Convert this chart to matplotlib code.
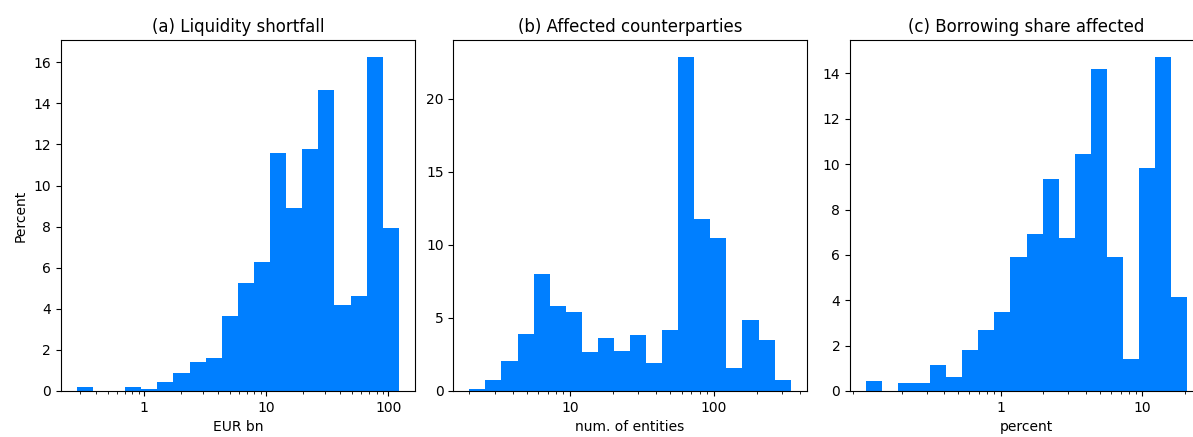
import numpy as np
import matplotlib
matplotlib.use('Agg')
import matplotlib.pyplot as plt

# Share of simulations (percent) per log-spaced bin
shortfall_range = [0.28, 122.0]   # EUR bn
shortfall_pct = [0.21, 0.0, 0.0, 0.21, 0.10, 0.44, 0.89, 1.41, 1.62, 3.63,
                 5.28, 6.29, 11.56, 8.90, 11.78, 14.64, 4.20, 4.62, 16.27, 7.91]

counterparty_range = [2.0, 344.0]  # num. of entities
counterparty_pct = [0.14, 0.73, 2.07, 3.90, 8.00, 5.81, 5.42, 2.64, 3.60, 2.73,
                    3.83, 1.91, 4.19, 22.87, 11.75, 10.46, 1.55, 4.85, 3.46, 0.73]

borrowing_range = [0.112, 20.6]    # percent
borrowing_pct = [0.43, 0.0, 0.35, 0.35, 1.16, 0.62, 1.81, 2.70, 3.49, 5.93,
                 6.93, 9.34, 6.74, 10.44, 14.21, 5.93, 1.42, 9.82, 14.74, 4.13]

titles = ['(a) Liquidity shortfall', '(b) Affected counterparties', '(c) Borrowing share affected']
xlabels = ['EUR bn', 'num. of entities', 'percent']
major_ticks = [[1, 10, 100], [10, 100], [1, 10]]
bar_color = '#007fff'

W, H = 1193, 437
fig = plt.figure(figsize=(W / 100, H / 100), dpi=100)

# axes boxes in pixels: left, right (the last one runs past the figure edge)
boxes = [(60.7, 415.0), (453.3, 806.7), (850.0, 1203.0)]
top, bottom = 40.0, 391.0

panels = [(shortfall_range, shortfall_pct),
          (counterparty_range, counterparty_pct),
          (borrowing_range, borrowing_pct)]

for i, ((lo, hi), pct) in enumerate(panels):
  l, r = boxes[i]
  ax = fig.add_axes([l / W, (H - bottom) / H, (r - l) / W, (bottom - top) / H])
  edges = np.logspace(np.log10(lo), np.log10(hi), len(pct) + 1)
  ax.hist(edges[:-1], bins=edges, weights=pct, color=bar_color)
  ax.set_xscale('log')
  ax.set_xticks(major_ticks[i])
  ax.set_xticklabels([str(t) for t in major_ticks[i]])
  ax.set_title(titles[i], fontsize=12)
  ax.set_xlabel(xlabels[i])
  if i == 0:
    ax.set_ylabel('Percent')

fig.savefig('out.png', dpi=100)
